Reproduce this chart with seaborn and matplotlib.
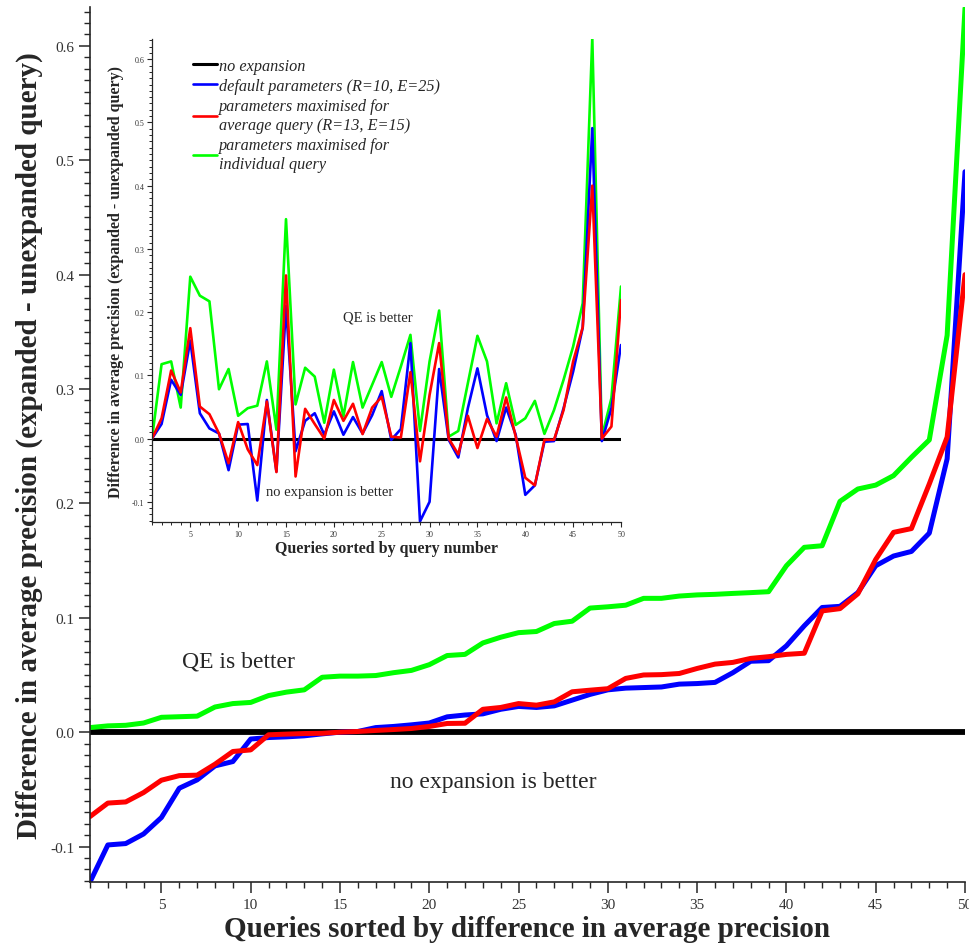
import numpy as np
import pandas as pd
import seaborn as sns
import matplotlib.pyplot as plt
from matplotlib.ticker import MultipleLocator, FormatStrFormatter

# main plot: queries sorted by difference in average precision
sorted_default = [-0.131, -0.0986, -0.0974, -0.089, -0.0746, -0.049, -0.0417, -0.0295, -0.0257, -0.006,
                  -0.0047, -0.0041, -0.0032, -0.0015, 0.0, 0.0006, 0.004, 0.005, 0.0064, 0.008,
                  0.0134, 0.015, 0.016, 0.020, 0.0225, 0.0216, 0.023, 0.028, 0.033, 0.037,
                  0.0385, 0.039, 0.0395, 0.042, 0.0425, 0.0435, 0.052, 0.062, 0.0625, 0.0755,
                  0.093, 0.109, 0.110, 0.122, 0.1455, 0.154, 0.158, 0.174, 0.239, 0.490]
sorted_average = [-0.0738, -0.062, -0.061, -0.0528, -0.042, -0.038, -0.0376, -0.028, -0.0169, -0.0155,
                  -0.0023, -0.0017, -0.0012, -0.001, 0.0, 0.0006, 0.0015, 0.0023, 0.0032, 0.005,
                  0.0076, 0.0078, 0.020, 0.0216, 0.025, 0.0236, 0.0265, 0.0353, 0.0367, 0.038,
                  0.047, 0.050, 0.0503, 0.0513, 0.0557, 0.0595, 0.061, 0.0645, 0.066, 0.068,
                  0.069, 0.106, 0.108, 0.121, 0.151, 0.1747, 0.178, 0.217, 0.258, 0.400]
sorted_individual = [0.004, 0.0055, 0.006, 0.008, 0.013, 0.0135, 0.014, 0.022, 0.025, 0.026,
                     0.032, 0.035, 0.037, 0.048, 0.049, 0.049, 0.0495, 0.052, 0.054, 0.059,
                     0.067, 0.068, 0.078, 0.083, 0.087, 0.088, 0.095, 0.097, 0.1085, 0.1096,
                     0.111, 0.117, 0.117, 0.119, 0.120, 0.1205, 0.1213, 0.122, 0.1228, 0.1455,
                     0.1616, 0.163, 0.2018, 0.2126, 0.216, 0.2243, 0.2403, 0.2555, 0.347, 0.633]

# inset: queries sorted by query number
by_query_default = [0.0, 0.023, 0.093, 0.069, 0.155, 0.04, 0.016, 0.008, -0.05, 0.022,
                    0.023, -0.098, 0.061, -0.052, 0.21, -0.02, 0.028, 0.04, 0.006, 0.043,
                    0.006, 0.034, 0.008, 0.037, 0.075, -0.002, 0.015, 0.151, -0.131, -0.1,
                    0.11, -0.002, -0.03, 0.048, 0.111, 0.037, -0.004, 0.049, 0.006, -0.089,
                    -0.074, -0.005, -0.004, 0.048, 0.106, 0.1756, 0.491, -0.004, 0.048, 0.148]
by_query_average = [0.0, 0.032, 0.1076, 0.073, 0.1746, 0.0506, 0.0385, 0.008, -0.039, 0.026,
                    -0.017, -0.042, 0.0585, -0.053, 0.258, -0.06, 0.047, 0.023, 0.0, 0.061,
                    0.028, 0.055, 0.007, 0.049, 0.066, 0.003, 0.0016, 0.105, -0.036, 0.069,
                    0.151, 0.0, -0.025, 0.036, -0.015, 0.031, 0.003, 0.065, 0.003, -0.062,
                    -0.074, -0.002, -0.002, 0.045, 0.122, 0.176, 0.400, 0.0, 0.019, 0.219]
by_query_individual = [0.0, 0.1176, 0.122, 0.049, 0.256, 0.226, 0.217, 0.078, 0.110, 0.036,
                       0.048, 0.052, 0.122, 0.014, 0.347, 0.054, 0.112, 0.098, 0.025, 0.109,
                       0.035, 0.121, 0.049, 0.085, 0.121, 0.066, 0.114, 0.164, 0.012, 0.122,
                       0.2025, 0.003, 0.012, 0.0875, 0.1625, 0.122, 0.024, 0.0875, 0.0216, 0.032,
                       0.0596, 0.0074, 0.045, 0.093, 0.1456, 0.214, 0.634, 0.003, 0.064, 0.2405]

queries = np.arange(1, 51)
labels = ["no expansion",
          "default parameters (R=10, E=25)",
          "parameters maximised for\naverage query (R=13, E=15)",
          "parameters maximised for\nindividual query"]
colors = ["black", "#0000ff", "#ff0000", "#00ff00"]

sns.set_style("ticks")
plt.rcParams['font.family'] = 'Liberation Serif'

fig = plt.figure(figsize=(9.69, 9.45), dpi=100)
ax = fig.add_axes([90 / 969, 62 / 945, 875 / 969, 875 / 945])
ins = fig.add_axes([152 / 969, 422 / 945, 469 / 969, 483 / 945])

main_df = pd.DataFrame({"q": queries, "zero": np.zeros(50), "default": sorted_default,
                        "average": sorted_average, "individual": sorted_individual})
ins_df = pd.DataFrame({"q": queries, "zero": np.zeros(50), "default": by_query_default,
                       "average": by_query_average, "individual": by_query_individual})

# main lines
sns.lineplot(data=main_df, x="q", y="zero", color="black", linewidth=4.2, ax=ax)
sns.lineplot(data=main_df, x="q", y="individual", color=colors[3], linewidth=3.6, ax=ax)
sns.lineplot(data=main_df, x="q", y="default", color=colors[1], linewidth=3.6, ax=ax)
sns.lineplot(data=main_df, x="q", y="average", color=colors[2], linewidth=3.6, ax=ax)

# inset lines
h0 = sns.lineplot(data=ins_df, x="q", y="zero", color="black", linewidth=2.2, ax=ins).lines[-1]
h3 = sns.lineplot(data=ins_df, x="q", y="individual", color=colors[3], linewidth=1.9, ax=ins).lines[-1]
h1 = sns.lineplot(data=ins_df, x="q", y="default", color=colors[1], linewidth=1.9, ax=ins).lines[-1]
h2 = sns.lineplot(data=ins_df, x="q", y="average", color=colors[2], linewidth=1.9, ax=ins).lines[-1]

for a in (ax, ins):
    a.set_xlim(1, 50)
    a.spines["top"].set_visible(False)
    a.spines["right"].set_visible(False)
    a.xaxis.set_major_locator(MultipleLocator(5))
    a.xaxis.set_minor_locator(MultipleLocator(1))
    a.yaxis.set_major_locator(MultipleLocator(0.1))
    a.yaxis.set_minor_locator(MultipleLocator(0.01))
    a.yaxis.set_major_formatter(FormatStrFormatter("%.1f"))

ax.set_ylim(-0.131, 0.634)
ins.set_ylim(-0.132, 0.632)
ins.patch.set_alpha(0)

ax.tick_params(which="major", length=8, width=1.1, labelsize=11, labelcolor="#333333", direction="out")
ax.tick_params(which="minor", length=4, width=1.0, direction="out")
for s in ("left", "bottom"):
    ax.spines[s].set_linewidth(1.2)
ins.tick_params(which="major", length=3.5, width=0.8, labelsize=5.8, labelcolor="#333333", direction="out", pad=2)
ins.tick_params(which="minor", length=2, width=0.7, direction="out")
for s in ("left", "bottom"):
    ins.spines[s].set_linewidth(0.9)

ax.set_xlabel("Queries sorted by difference in average precision", fontsize=21, fontweight="bold")
ax.set_ylabel("Difference in average precision (expanded - unexpanded query)", fontsize=21, fontweight="bold")
ax.xaxis.set_label_coords(0.5, -0.038)
ax.yaxis.set_label_coords(-0.054, 0.5)
ins.set_xlabel("Queries sorted by query number", fontsize=11.5, fontweight="bold")
ins.set_ylabel("Difference in average precision (expanded - unexpanded query)", fontsize=11.5, fontweight="bold")
ins.xaxis.set_label_coords(0.5, -0.038)
ins.yaxis.set_label_coords(-0.06, 0.5)

ax.text(6.15, 0.062, "QE is better", fontsize=17, va="center", ha="left")
ax.text(17.8, -0.043, "no expansion is better", fontsize=17, va="center", ha="left")
ins.text(21.0, 0.192, "QE is better", fontsize=10.5, va="center", ha="left")
ins.text(12.9, -0.083, "no expansion is better", fontsize=10.5, va="center", ha="left")

ins.legend([h0, h1, h2, h3], labels, loc="upper left", bbox_to_anchor=(0.074, 0.975),
           frameon=False, prop={"style": "italic", "size": 11.7}, handlelength=1.45,
           handletextpad=0.12, labelspacing=0.27, borderaxespad=0)

fig.savefig("out.png", dpi=100)
